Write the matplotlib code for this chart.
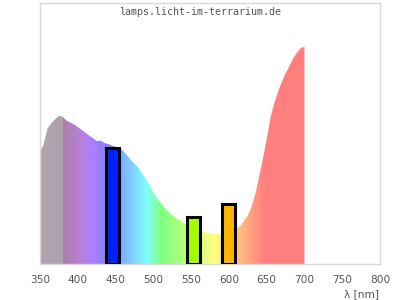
import numpy as np
import matplotlib
matplotlib.use("Agg")
import matplotlib.pyplot as plt

# spectrum (relative intensity, 0..100 = plot height)
wl = [350, 355, 360, 365, 370, 375, 380, 385, 390, 395, 400, 405, 410, 415, 420,
      425, 430, 435, 440, 445, 450, 455, 460, 465, 470, 475, 480, 485, 490, 495,
      500, 505, 510, 515, 520, 525, 530, 535, 540, 545, 550, 555, 560, 565, 570,
      575, 580, 585, 590, 595, 600, 605, 610, 615, 620, 625, 630, 635, 640, 645,
      650, 655, 660, 665, 670, 675, 680, 685, 690, 695, 700]
intensity = [42.7, 46, 52, 54, 55.5, 56.8, 56.5, 55, 54.3, 53.5, 52.5, 51.5, 50.4, 49.3, 48.3,
             47.2, 47.3, 46.5, 46, 45.5, 45, 44.7, 43.4, 41.8, 40, 38.5, 37, 35, 32.7, 30,
             27.5, 25.3, 23.4, 21.6, 20, 18.7, 17.6, 16.7, 15.7, 15, 14.3, 13.6, 13, 12.5, 12,
             11.5, 11.5, 11.5, 11.6, 12, 12.4, 12.9, 13.7, 14.4, 16.5, 18.5, 22, 26.8, 33.5, 40.3,
             47.5, 56, 61.5, 66, 69.8, 73, 75.8, 78.8, 81, 82.8, 83.4]

# receptor bars
bar_center = [446, 553, 599]
bar_height = [44.5, 18.2, 23.1]
bar_colors = ["#0022ff", "#a6ff00", "#ffb400"]
bar_width = 17.5


def wl_color(w):
    # Bruton approximation, blended 50% with white
    if w < 380:
        return (0.675, 0.643, 0.675)
    if w < 440:
        r, g, b = -(w - 440) / 60, 0.0, 1.0
    elif w < 490:
        r, g, b = 0.0, (w - 440) / 50, 1.0
    elif w < 510:
        r, g, b = 0.0, 1.0, -(w - 510) / 20
    elif w < 580:
        r, g, b = (w - 510) / 70, 1.0, 0.0
    elif w < 645:
        r, g, b = 1.0, -(w - 645) / 65, 0.0
    else:
        r, g, b = 1.0, 0.0, 0.0
    f = 0.3 + 0.7 * (w - 380) / 40 if w < 420 else 1.0
    return (0.5 + 0.5 * r * f, 0.5 + 0.5 * g * f, 0.5 + 0.5 * b * f)


fig = plt.figure(figsize=(4, 3), dpi=100)
ax = fig.add_axes([0.1, 0.12, 0.85, 0.869])

poly = ax.fill_between(wl, 0, intensity, color="none", lw=0)
cols = np.arange(wl[0], wl[-1] + 1)
img = np.array([[wl_color(w) for w in cols]])
im = ax.imshow(img, extent=[wl[0], wl[-1] + 1, 0, 100], aspect="auto",
               interpolation="nearest", zorder=1)
im.set_clip_path(poly.get_paths()[0], transform=ax.transData)

ax.bar(bar_center, bar_height, width=bar_width, color=bar_colors,
       edgecolor="black", linewidth=2.2, zorder=3)

ax.set_xlim(350, 800)
ax.set_ylim(0, 100)
ax.set_xticks(range(350, 801, 50))
ax.set_yticks([])
ax.tick_params(axis="x", length=0, pad=8, labelsize=7.6, labelcolor="#555555")
for s in ax.spines.values():
    s.set_color("#d8d8d8")
    s.set_linewidth(1)

ax.text(0.47, 0.985, "lamps.licht-im-terrarium.de", transform=ax.transAxes,
        ha="center", va="top", family="DejaVu Sans Mono", fontsize=7.2, color="#555555")
fig.text(0.948, 0.004, "λ [nm]", ha="right", va="bottom", fontsize=7.6, color="#555555")

fig.savefig("out.png", dpi=100)
